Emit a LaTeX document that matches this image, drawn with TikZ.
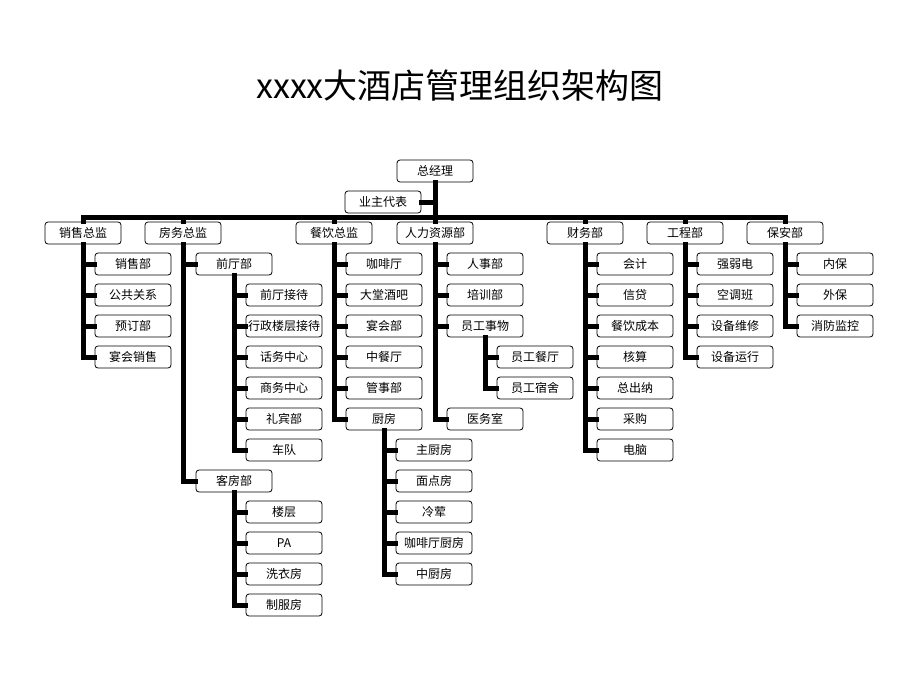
\documentclass[tikz,border=0pt]{standalone}
\usepackage{fontspec}
\setmainfont{Noto Sans CJK SC}
\begin{document}
\begin{tikzpicture}[x=1pt,y=-1pt,
 box/.style={draw=black,line width=0.8pt,rounded corners=3pt,minimum width=76pt,minimum height=22pt,inner sep=0pt,fill=white,font=\fontsize{12}{12}\selectfont},
 ln/.style={line width=5pt,line cap=rect}]
\useasboundingbox (0,0) rectangle (920,690);
\node[font=\fontsize{34}{34}\selectfont] (title) at (460,86) {xxxx大酒店管理组织架构图};
% nodes
\node[box] (zjl) at (435,171) {总经理};
\node[box] (yz) at (383,202) {业主代表};
\coordinate (busL) at (83,217);
\coordinate (busR) at (785,217);
\foreach \n/\x/\t in {a/83/销售总监,b/183/房务总监,c/334/餐饮总监,d/435/人力资源部,e/585/财务部,f/685/工程部,g/785/保安部}
  \node[box] (\n) at (\x,233) {\t};
% children
\foreach \i/\t in {1/销售部,2/公共关系,3/预订部,4/宴会销售}
  \node[box] (a\i) at (133,233+31*\i) {\t};
\node[box] (b1) at (234,264) {前厅部};
\node[box] (b2) at (234,481) {客房部};
\foreach \i/\t in {1/前厅接待,2/行政楼层接待,3/话务中心,4/商务中心,5/礼宾部,6/车队}
  \node[box] (b1\i) at (284,264+31*\i) {\t};
\foreach \i/\t in {1/楼层,2/PA,3/洗衣房,4/制服房}
  \node[box] (b2\i) at (284,481+31*\i) {\t};
\foreach \i/\t in {1/咖啡厅,2/大堂酒吧,3/宴会部,4/中餐厅,5/管事部,6/厨房}
  \node[box] (c\i) at (384,233+31*\i) {\t};
\foreach \i/\t in {1/主厨房,2/面点房,3/冷荤,4/咖啡厅厨房,5/中厨房}
  \node[box] (c6\i) at (434,419+31*\i) {\t};
\node[box] (d1) at (485,264) {人事部};
\node[box] (d2) at (485,295) {培训部};
\node[box] (d3) at (485,326) {员工事物};
\node[box] (d4) at (485,419) {医务室};
\node[box] (d31) at (535,357) {员工餐厅};
\node[box] (d32) at (535,388) {员工宿舍};
\foreach \i/\t in {1/会计,2/信贷,3/餐饮成本,4/核算,5/总出纳,6/采购,7/电脑}
  \node[box] (e\i) at (635,233+31*\i) {\t};
\foreach \i/\t in {1/强弱电,2/空调班,3/设备维修,4/设备运行}
  \node[box] (f\i) at (735,233+31*\i) {\t};
\foreach \i/\t in {1/内保,2/外保,3/消防监控}
  \node[box] (g\i) at (835,233+31*\i) {\t};
% connectors
\begin{scope}[on background layer/.style={}]
\end{scope}
\begin{scope}[ln]
\draw (busL) -- (busR);
\draw (zjl.south) -- (zjl.south |- busL);
\draw (yz.east) -- (yz.east -| zjl.south);
\foreach \n in {a,b,c,d,e,f,g} \draw (\n.north) -- (\n.north |- busL);
\foreach \i in {1,...,4} \draw (a.south) |- (a\i.west);
\foreach \i in {1,2} \draw (b.south) |- (b\i.west);
\foreach \i in {1,...,6} \draw (b1.south) |- (b1\i.west);
\foreach \i in {1,...,4} \draw (b2.south) |- (b2\i.west);
\foreach \i in {1,...,6} \draw (c.south) |- (c\i.west);
\foreach \i in {1,...,5} \draw (c6.south) |- (c6\i.west);
\foreach \i in {1,...,4} \draw (d.south) |- (d\i.west);
\foreach \i in {1,2} \draw (d3.south) |- (d3\i.west);
\foreach \i in {1,...,7} \draw (e.south) |- (e\i.west);
\foreach \i in {1,...,4} \draw (f.south) |- (f\i.west);
\foreach \i in {1,...,3} \draw (g.south) |- (g\i.west);
\end{scope}
\end{tikzpicture}
\end{document}
